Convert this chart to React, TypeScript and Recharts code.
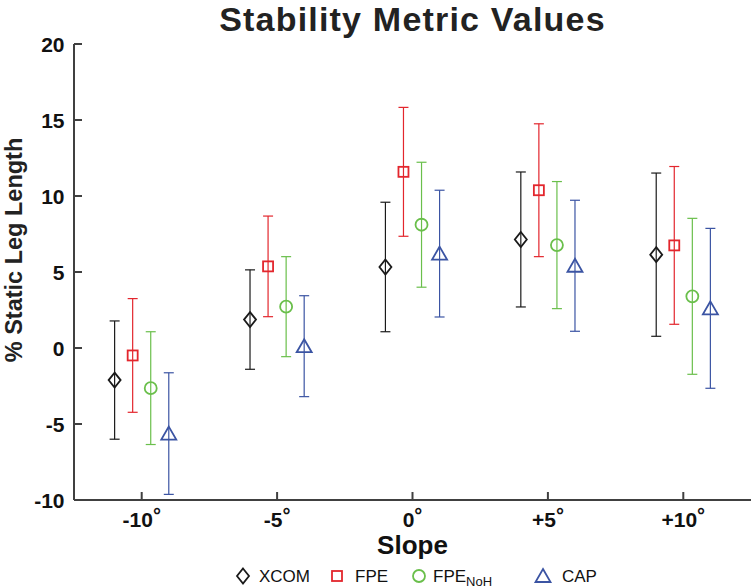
import React from 'react';
import { ScatterChart, Scatter, XAxis, YAxis, ErrorBar, Legend } from 'recharts';

const slopes = ['-10', '-5', '0', '+5', '+10'];
const yTicks = [-10, -5, 0, 5, 10, 15, 20];

// mean and SD per slope
const xcomMean = [-2.11, 1.87, 5.33, 7.14, 6.14];
const xcomSd = [3.89, 3.27, 4.26, 4.44, 5.37];
const fpeMean = [-0.49, 5.37, 11.59, 10.38, 6.75];
const fpeSd = [3.74, 3.31, 4.24, 4.37, 5.19];
const fpeNohMean = [-2.64, 2.72, 8.11, 6.77, 3.4];
const fpeNohSd = [3.71, 3.29, 4.11, 4.18, 5.13];
const capMean = [-5.63, 0.12, 6.21, 5.41, 2.61];
const capSd = [4.0, 3.32, 4.17, 4.31, 5.26];

const FONT = '"Liberation Sans", Arial, Helvetica, sans-serif';
const AXIS = '#404040';

type Marker = 'diamond' | 'square' | 'circle' | 'triangle';

const series = [
  { name: 'XCOM', mean: xcomMean, sd: xcomSd, color: '#1a1a1a', marker: 'diamond' as Marker, shift: -0.2 },
  { name: 'FPE', mean: fpeMean, sd: fpeSd, color: '#e3262d', marker: 'square' as Marker, shift: -0.0667 },
  { name: 'FPE_NoH', mean: fpeNohMean, sd: fpeNohSd, color: '#6abf4b', marker: 'circle' as Marker, shift: 0.0667 },
  { name: 'CAP', mean: capMean, sd: capSd, color: '#3b54a3', marker: 'triangle' as Marker, shift: 0.2 },
];

function MarkerGlyph({ kind, cx, cy, color }: { kind: Marker; cx: number; cy: number; color: string }) {
  const common = { fill: 'none', stroke: color, strokeWidth: 1.8 };
  if (kind === 'diamond') {
    return <polygon points={`${cx},${cy - 7.5} ${cx + 6},${cy} ${cx},${cy + 7.5} ${cx - 6},${cy}`} {...common} />;
  }
  if (kind === 'square') {
    return <rect x={cx - 5} y={cy - 5} width={10} height={10} {...common} />;
  }
  if (kind === 'circle') {
    return <circle cx={cx} cy={cy} r={6} {...common} />;
  }
  return <polygon points={`${cx},${cy - 7} ${cx + 7.5},${cy + 6} ${cx - 7.5},${cy + 6}`} {...common} />;
}

function YTick({ x, y, payload }: any) {
  return (
    <g>
      <line x1={x + 9.5} x2={x + 17.5} y1={y} y2={y} stroke={AXIS} strokeWidth={2} />
      <text x={x} y={y} dy="0.36em" textAnchor="end" fontFamily={FONT} fontWeight="bold" fontSize={21} fill="#111">
        {payload.value}
      </text>
    </g>
  );
}

function XTick({ x, y, payload }: any) {
  const label = slopes[payload.value - 1];
  return (
    <g>
      <line x1={x} x2={x} y1={y} y2={y - 8} stroke={AXIS} strokeWidth={2} />
      <text x={x} y={y + 27} textAnchor="middle" fontFamily={FONT} fontWeight="bold" fontSize={21} fill="#111">
        {label}
        <tspan dy={-5} fontSize={20}>°</tspan>
      </text>
    </g>
  );
}

const legendMarkerX = [243, 337, 419, 543];
const legendTextX = [259, 355, 433, 562];

function LegendBox() {
  return (
    <svg width={753} height={26}>
      {series.map((s, i) => (
        <g key={s.name}>
          <MarkerGlyph kind={s.marker} cx={legendMarkerX[i]} cy={14} color={s.color} />
          <text x={legendTextX[i]} y={20} fontFamily={FONT} fontSize={17} fill="#111">
            {s.name === 'FPE_NoH' ? (
              <>
                FPE
                <tspan dy={4} fontSize={13}>NoH</tspan>
              </>
            ) : (
              s.name
            )}
          </text>
        </g>
      ))}
    </svg>
  );
}

export default function App() {
  return (
    <div style={{ position: 'absolute', left: 0, top: 0, width: 753, height: 588, background: '#fff' }}>
      <ScatterChart width={753} height={588} margin={{ top: 44, right: 2, left: 0, bottom: 0 }}>
        <XAxis
          type="number"
          dataKey="x"
          domain={[0.5, 5.5]}
          ticks={[1, 2, 3, 4, 5]}
          height={88}
          tickSize={0}
          tickMargin={0}
          tick={<XTick />}
          axisLine={{ stroke: AXIS, strokeWidth: 2 }}
          allowDataOverflow
        />
        <YAxis
          type="number"
          dataKey="y"
          domain={[-10, 20]}
          ticks={yTicks}
          width={74}
          tickSize={0}
          tickMargin={9.5}
          tick={<YTick />}
          axisLine={{ stroke: AXIS, strokeWidth: 2 }}
          allowDataOverflow
        />
        {series.map((s) => (
          <Scatter
            key={s.name}
            name={s.name}
            data={s.mean.map((m, i) => ({ x: i + 1 + s.shift, y: m, sd: s.sd[i] }))}
            isAnimationActive={false}
            shape={(p: any) => <MarkerGlyph kind={s.marker} cx={p.cx} cy={p.cy} color={s.color} />}
          >
            <ErrorBar dataKey="sd" direction="y" width={5} stroke={s.color} strokeWidth={1.2} isAnimationActive={false} />
          </Scatter>
        ))}
        <Legend
          layout="horizontal"
          verticalAlign="middle"
          align="center"
          content={() => <LegendBox />}
          wrapperStyle={{ top: 562, left: 0, width: 753, height: 26 }}
        />
      </ScatterChart>
      <svg width={753} height={588} style={{ position: 'absolute', left: 0, top: 0, pointerEvents: 'none' }}>
        <text
          x={412.5}
          y={31}
          textAnchor="middle"
          fontFamily={FONT}
          fontWeight="bold"
          fontSize={34}
          letterSpacing={1.2}
          fill="#222"
        >
          Stability Metric Values
        </text>
        <text x={412.5} y={554} textAnchor="middle" fontFamily={FONT} fontWeight="bold" fontSize={26} fill="#111">
          Slope
        </text>
        <text
          transform="translate(22,250) rotate(-90)"
          textAnchor="middle"
          fontFamily={FONT}
          fontWeight="bold"
          fontSize={23.5}
          fill="#222"
        >
          % Static Leg Length
        </text>
      </svg>
    </div>
  );
}
